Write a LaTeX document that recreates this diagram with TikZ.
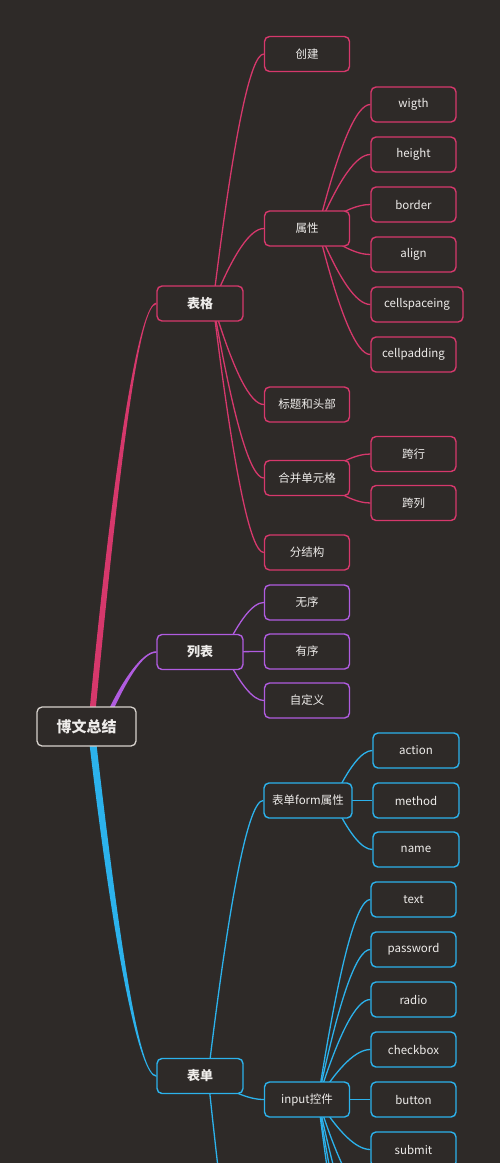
\documentclass[tikz,border=0pt]{standalone}
\usepackage{fontspec}
\setmainfont{Noto Sans CJK SC}
\usetikzlibrary{calc}
\definecolor{bgc}{RGB}{46,42,40}
\definecolor{pk}{RGB}{214,56,108}
\definecolor{pu}{RGB}{176,92,224}
\definecolor{bl}{RGB}{44,178,236}
\definecolor{rt}{RGB}{215,210,205}
\definecolor{tx}{RGB}{238,236,234}
\pgfdeclarelayer{back}
\pgfdeclarelayer{lines}
\pgfsetlayers{back,lines,main}
\tikzset{
  mmbox/.style={draw, rounded corners=5pt, line width=1.4pt, fill=bgc, text=tx,
    font=\fontsize{11.5}{13}\selectfont, minimum height=35pt, minimum width=85pt, inner sep=0pt},
  lvone/.style={mmbox, font=\bfseries\fontsize{13}{15}\selectfont, minimum width=86pt},
  rootbox/.style={mmbox, draw=rt, line width=1.3pt, font=\bfseries\fontsize{15}{17}\selectfont,
    minimum width=99pt, minimum height=39pt},
  conn/.style={line width=1.3pt},
  qc/.style={to path={let \p1=(\tikztostart), \p2=(\tikztotarget) in
    .. controls ({\x1+0.4*(\x2-\x1)},{\y1+0.6667*(\y2-\y1)}) and ({\x2-0.2667*(\x2-\x1)},{\y2}) .. (\tikztotarget)}}
}
\begin{document}
\begin{tikzpicture}[x=1pt,y=-1pt]
\useasboundingbox (0,0) rectangle (500,1163);
\begin{pgfonlayer}{back}
\fill[bgc] (0,0) rectangle (500,1163);
\end{pgfonlayer}

% root and level 1
\node[rootbox] (root) at (86.5,726.5) {博文总结};
\node[lvone,draw=pk] (biaoge) at (200,303.5) {表格};
\node[lvone,draw=pu] (liebiao) at (200,652) {列表};
\node[lvone,draw=bl] (biaodan) at (200,1076) {表单};

% pink level 2
\node[mmbox,draw=pk] (chuangjian) at (307,54) {创建};
\node[mmbox,draw=pk] (shuxing) at (307,228.5) {属性};
\node[mmbox,draw=pk] (biaoti) at (307,404.5) {标题和头部};
\node[mmbox,draw=pk] (hebing) at (307,478) {合并单元格};
\node[mmbox,draw=pk] (fenjiegou) at (307,552.5) {分结构};
% pink level 3
\node[mmbox,draw=pk] (wigth) at (413.5,104.5) {wigth};
\node[mmbox,draw=pk] (height) at (413.5,154.5) {height};
\node[mmbox,draw=pk] (border) at (413.5,204.5) {border};
\node[mmbox,draw=pk] (align) at (413.5,254.5) {align};
\node[mmbox,draw=pk,minimum width=92pt] (cellsp) at (417,304.5) {cellspaceing};
\node[mmbox,draw=pk] (cellpad) at (413.5,354.5) {cellpadding};
\node[mmbox,draw=pk] (kuahang) at (413.5,454) {跨行};
\node[mmbox,draw=pk] (kualie) at (413.5,503) {跨列};

% purple
\node[mmbox,draw=pu] (wuxu) at (307,602.5) {无序};
\node[mmbox,draw=pu] (youxu) at (307,651.5) {有序};
\node[mmbox,draw=pu] (zidingyi) at (307,700.5) {自定义};

% blue
\node[mmbox,draw=bl,minimum width=88pt] (formattr) at (308,800.5) {表单form属性};
\node[mmbox,draw=bl,minimum width=86pt] (action) at (416,750.5) {action};
\node[mmbox,draw=bl,minimum width=86pt] (method) at (416,800.5) {method};
\node[mmbox,draw=bl,minimum width=86pt] (name) at (416,849.5) {name};
\node[mmbox,draw=bl] (input) at (307,1099.5) {input控件};
\node[mmbox,draw=bl] (text) at (413.5,899.5) {text};
\node[mmbox,draw=bl] (password) at (413.5,949.5) {password};
\node[mmbox,draw=bl] (radio) at (413.5,999.5) {radio};
\node[mmbox,draw=bl] (checkbox) at (413.5,1049.5) {checkbox};
\node[mmbox,draw=bl] (button) at (413.5,1099.5) {button};
\node[mmbox,draw=bl] (submit) at (413.5,1149.5) {submit};

% origins and off-page ends
\coordinate (o-bg) at (213,303.5);
\coordinate (o-sx) at (318,228.5);
\coordinate (o-hb) at (318,478);
\coordinate (o-lb) at (224,652);
\coordinate (o-bd) at (208,1076);
\coordinate (o-fa) at (333,800.5);
\coordinate (o-in) at (318,1099.5);
\coordinate (bd-more) at (264,1400);
\coordinate (in-more1) at (371,1199.5);
\coordinate (in-more2) at (371,1249.5);
\coordinate (in-more3) at (371,1299.5);
\coordinate (in-more4) at (371,1349.5);

\begin{pgfonlayer}{lines}
% tapered root branches
\fill[pk] (88,727) .. controls (114.8,444.7) and (140.1,302.7) .. (biaoge.west |- 0,302.7)
  -- (biaoge.west |- 0,304.3) .. controls (140.1,304.3) and (120.8,444.7) .. (94,727) -- cycle;
\fill[pu] (100.5,727) .. controls (122.5,677) and (143.3,651.2) .. (liebiao.west |- 0,651.2)
  -- (liebiao.west |- 0,652.8) .. controls (143.3,652.8) and (127.5,677) .. (105.5,727) -- cycle;
\fill[bl] (94.5,727) .. controls (121,960) and (140.1,1075.2) .. (biaodan.west |- 0,1075.2)
  -- (biaodan.west |- 0,1076.8) .. controls (140.1,1076.8) and (114.5,960) .. (87.5,727) -- cycle;

% pink connectors
\foreach \t in {chuangjian,shuxing,biaoti,hebing,fenjiegou}
  \draw[pk,conn] (o-bg) to[qc] (\t.west);
\foreach \t in {wigth,height,border,align,cellsp,cellpad}
  \draw[pk,conn] (o-sx) to[qc] (\t.west);
\foreach \t in {kuahang,kualie}
  \draw[pk,conn] (o-hb) to[qc] (\t.west);
% purple connectors
\foreach \t in {wuxu,youxu,zidingyi}
  \draw[pu,conn] (o-lb) to[qc] (\t.west);
% blue connectors
\foreach \t in {formattr,input}
  \draw[bl,conn] (o-bd) to[qc] (\t.west);
\draw[bl,conn] (o-bd) to[qc] (bd-more);
\foreach \t in {action,method,name}
  \draw[bl,conn] (o-fa) to[qc] (\t.west);
\foreach \t in {text,password,radio,checkbox,button,submit}
  \draw[bl,conn] (o-in) to[qc] (\t.west);
\foreach \t in {in-more1,in-more2,in-more3,in-more4}
  \draw[bl,conn] (o-in) to[qc] (\t);
\end{pgfonlayer}
\end{tikzpicture}
\end{document}
